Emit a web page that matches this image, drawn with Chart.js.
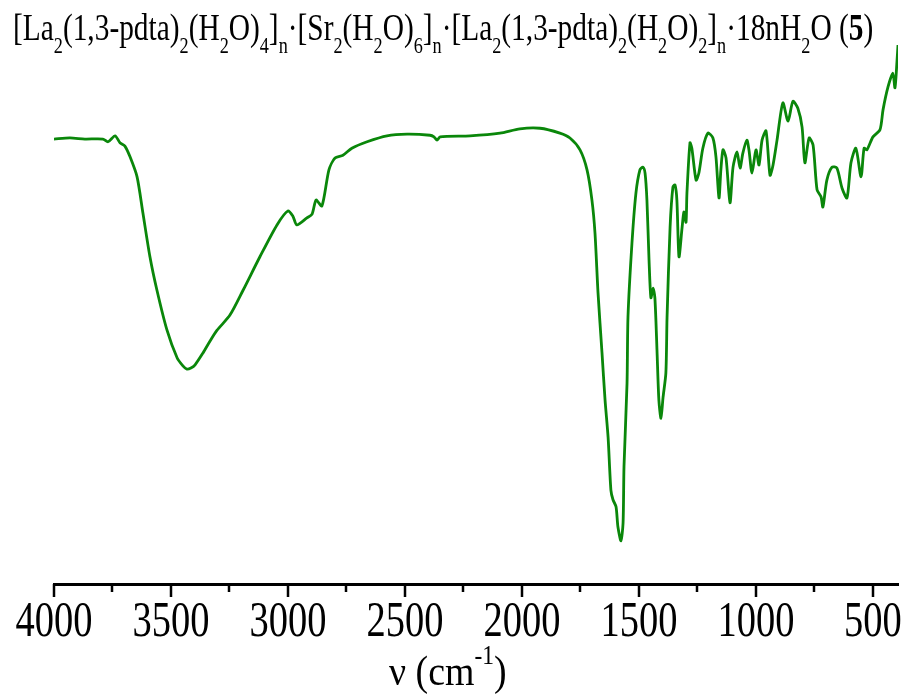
<!DOCTYPE html>
<html>
<head>
<meta charset="utf-8">
<script src="https://cdn.jsdelivr.net/npm/chart.js@4.4.1/dist/chart.umd.min.js"></script>
<style>
  html, body { margin: 0; padding: 0; background: #fff; }
  #wrap { position: relative; width: 909px; height: 699px; overflow: hidden; }
  #chart { position: absolute; left: 0; top: 0; }
  .lbl { position: absolute; font-family: "Liberation Serif", "Times New Roman", serif; color: #000; white-space: nowrap; transform-origin: 0 0; }
  #title { left: 13px; top: 6px; font-size: 37px; transform: scaleX(0.794); }
  #xtitle { left: 389px; top: 646px; font-size: 43px; transform: scaleX(0.88); }
  .lbl sub { font-size: 0.62em; vertical-align: -0.55em; line-height: 0; }
  .lbl sup { font-size: 0.62em; vertical-align: 0.8em; line-height: 0; }
</style>
</head>
<body>
<div id="wrap">
  <canvas id="chart" width="909" height="699"></canvas>
  <div id="title" class="lbl">[La<sub>2</sub>(1,3-pdta)<sub>2</sub>(H<sub>2</sub>O)<sub>4</sub>]<sub>n</sub>·[Sr<sub>2</sub>(H<sub>2</sub>O)<sub>6</sub>]<sub>n</sub>·[La<sub>2</sub>(1,3-pdta)<sub>2</sub>(H<sub>2</sub>O)<sub>2</sub>]<sub>n</sub>·18nH<sub>2</sub>O (<b>5</b>)</div>
  <div id="xtitle" class="lbl">ν (cm<sup>-1</sup>)</div>
</div>
<script>
// wavenumber (cm-1) and transmittance (arb. %)
const wavenumber = [
  4000, 3932, 3868, 3791, 3769, 3739, 3718, 3697, 3675, 3645,
  3620, 3590, 3560, 3517, 3474, 3449, 3432, 3415, 3397, 3363,
  3333, 3303, 3248, 3192, 3120, 3047, 3000, 2979, 2962, 2919,
  2897, 2880, 2855, 2825, 2799, 2765, 2727, 2662, 2577, 2491,
  2393, 2376, 2363, 2350, 2222, 2094, 2009, 1923, 1838, 1795,
  1752, 1722, 1701, 1688, 1675, 1658, 1645, 1632, 1620, 1611,
  1598, 1590, 1577, 1568, 1564, 1551, 1547, 1530, 1513, 1496,
  1483, 1474, 1466, 1457, 1449, 1440, 1432, 1423, 1415, 1406,
  1397, 1385, 1380, 1367, 1355, 1346, 1338, 1329, 1316, 1308,
  1299, 1295, 1282, 1274, 1256, 1244, 1227, 1205, 1184, 1171,
  1158, 1150, 1141, 1128, 1111, 1098, 1081, 1068, 1056, 1039,
  1030, 1017, 1000, 987, 974, 957, 940, 927, 910, 885,
  863, 842, 821, 803, 791, 773, 756, 739, 722, 714,
  697, 675, 654, 632, 611, 594, 573, 551, 538, 526,
  500, 470, 457, 436, 415, 406, 397, 393
];
const transmittance = [
  82.4, 82.6, 82.4, 82.4, 81.9, 83.0, 81.7, 81.1, 79.1, 75.4,
  68.7, 60.6, 54.4, 47.0, 41.9, 40.4, 39.8, 40.0, 40.6, 42.8,
  45.0, 47.0, 49.8, 54.4, 60.6, 66.5, 69.1, 68.1, 66.5, 67.8,
  68.5, 71.1, 70.0, 76.7, 78.9, 79.4, 80.7, 81.9, 83.0, 83.3,
  83.1, 82.8, 82.2, 82.8, 83.0, 83.5, 84.3, 84.4, 83.5, 82.6,
  80.4, 76.7, 71.1, 65.0, 53.9, 42.8, 34.1, 27.2, 17.4, 15.6,
  14.3, 10.6, 8.0, 11.3, 21.7, 37.2, 49.4, 63.1, 72.4, 76.7,
  77.2, 76.1, 71.1, 60.0, 53.0, 54.8, 53.0, 43.3, 34.1, 30.7,
  34.6, 39.1, 49.4, 66.1, 73.5, 73.9, 71.1, 60.6, 65.9, 68.9,
  67.0, 72.4, 81.7, 80.7, 74.8, 76.1, 80.7, 83.5, 82.6, 79.1,
  71.5, 76.7, 80.4, 78.9, 70.6, 77.2, 80.0, 77.0, 79.8, 82.2,
  80.4, 76.1, 80.4, 77.6, 82.2, 83.9, 75.7, 77.6, 82.2, 89.1,
  85.7, 89.4, 88.1, 84.6, 78.0, 82.6, 81.3, 73.0, 71.7, 69.8,
  74.8, 77.2, 77.0, 73.3, 71.5, 78.0, 80.7, 75.4, 80.7, 80.4,
  82.8, 84.1, 87.8, 92.0, 94.6, 91.9, 97.0, 99.8
];
const majorTicks = [4000, 3500, 3000, 2500, 2000, 1500, 1000, 500];
const minorTicks = [3750, 3250, 2750, 2250, 1750, 1250, 750];

const points = wavenumber.map((w, i) => ({ x: w, y: transmittance[i] }));

// tick marks (major + minor) and narrow serif tick labels under the x axis
const xAxisDecor = {
  id: 'xAxisDecor',
  afterDraw(chart) {
    const ctx = chart.ctx;
    const xs = chart.scales.x;
    const y0 = chart.chartArea.bottom;
    ctx.save();
    ctx.strokeStyle = '#000';
    ctx.lineWidth = 2.5;
    majorTicks.forEach(v => {
      const px = Math.round(xs.getPixelForValue(v));
      ctx.beginPath(); ctx.moveTo(px, y0); ctx.lineTo(px, y0 + 13); ctx.stroke();
    });
    minorTicks.forEach(v => {
      const px = Math.round(xs.getPixelForValue(v));
      ctx.beginPath(); ctx.moveTo(px, y0); ctx.lineTo(px, y0 + 8); ctx.stroke();
    });
    ctx.fillStyle = '#000';
    ctx.font = '50px "Liberation Serif", serif';
    ctx.textAlign = 'center';
    ctx.textBaseline = 'alphabetic';
    majorTicks.forEach(v => {
      const px = xs.getPixelForValue(v);
      ctx.save();
      ctx.translate(px, y0 + 52);
      ctx.scale(0.77, 1);
      ctx.fillText(String(v), 0, 0);
      ctx.restore();
    });
    ctx.restore();
  }
};

new Chart(document.getElementById('chart').getContext('2d'), {
  type: 'line',
  data: {
    datasets: [{
      data: points,
      borderColor: '#0a870a',
      borderWidth: 2.8,
      pointRadius: 0,
      tension: 0.25,
      fill: false
    }]
  },
  options: {
    responsive: false,
    animation: false,
    layout: { padding: { left: 54, right: 11, top: 44, bottom: 0 } },
    plugins: { legend: { display: false }, tooltip: { enabled: false } },
    scales: {
      x: {
        type: 'linear',
        reverse: true,
        min: 393,
        max: 4000,
        afterFit: (scale) => { scale.height = 115; },
        grid: { display: false, drawTicks: false },
        border: { display: true, color: '#000', width: 3 },
        ticks: { display: false }
      },
      y: {
        display: false,
        min: 0,
        max: 100
      }
    }
  },
  plugins: [xAxisDecor]
});
</script>
</body>
</html>
